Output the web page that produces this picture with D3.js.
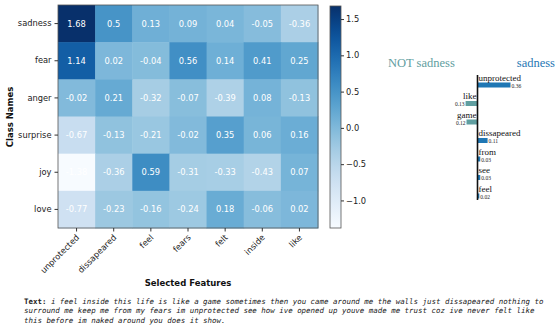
<!DOCTYPE html>
<html>
<head>
<meta charset="utf-8">
<script src="https://cdn.jsdelivr.net/npm/d3@7.9.0/dist/d3.min.js"></script>
<style>
  body { margin: 0; background: #fff; }
  svg { display: block; }
</style>
</head>
<body>
<svg id="chart" width="558" height="329"></svg>
<script>
// heatmap data
const classes = ["sadness", "fear", "anger", "surprise", "joy", "love"];
const features = ["unprotected", "dissapeared", "feel", "fears", "felt", "inside", "like"];
const values = [
  [1.68, 0.5, 0.13, 0.09, 0.04, -0.05, -0.36],
  [1.14, 0.02, -0.04, 0.56, 0.14, 0.41, 0.25],
  [-0.02, 0.21, -0.32, -0.07, -0.39, 0.08, -0.13],
  [-0.67, -0.13, -0.21, -0.02, 0.35, 0.06, 0.16],
  [-1.38, -0.36, 0.59, -0.31, -0.33, -0.43, 0.07],
  [-0.77, -0.23, -0.16, -0.24, 0.18, -0.06, 0.02]
];
const cbTicks = [-1.0, -0.5, 0.0, 0.5, 1.0, 1.5];

// lime explanation data
const limeWords = ["unprotected", "like", "game", "dissapeared", "from", "see", "feel"];
const limeWeights = [0.36, -0.13, -0.12, 0.11, 0.03, 0.03, 0.02];

const textLines = [
  "i feel inside this life is like a game sometimes then you came around me the walls just dissapeared nothing to",
  "surround me keep me from my fears im unprotected see how ive opened up youve made me trust coz ive never felt like",
  "this before im naked around you does it show."
];

const svg = d3.select("#chart");
const font = "DejaVu Sans, sans-serif";

const vmin = d3.min(values.flat()), vmax = d3.max(values.flat());
const x = d3.scaleBand().domain(features).range([58, 318]);
const y = d3.scaleBand().domain(classes).range([5, 228]);
const color = d3.scaleSequential(d3.interpolateBlues).domain([vmin, vmax]);

const cells = [];
values.forEach((row, i) => row.forEach((v, j) => cells.push({c: classes[i], f: features[j], v})));

svg.append("g").selectAll("rect").data(cells).join("rect")
  .attr("x", d => x(d.f)).attr("y", d => y(d.c))
  .attr("width", x.bandwidth() + 0.5).attr("height", y.bandwidth() + 0.5)
  .attr("fill", d => color(d.v));

svg.append("g").selectAll("text").data(cells).join("text")
  .attr("x", d => x(d.f) + x.bandwidth() / 2)
  .attr("y", d => y(d.c) + y.bandwidth() / 2 + 3)
  .attr("text-anchor", "middle")
  .attr("font-family", font).attr("font-size", 8.3)
  .attr("fill", "#fff")
  .text(d => d.v);

svg.append("rect").attr("x", 58).attr("y", 5).attr("width", 260).attr("height", 223)
  .attr("fill", "none").attr("stroke", "#555").attr("stroke-width", 0.8);

const yAxis = svg.append("g").attr("transform", "translate(58,0)")
  .call(d3.axisLeft(y).tickSize(3.5).tickPadding(3));
const xAxis = svg.append("g").attr("transform", "translate(0,228)")
  .call(d3.axisBottom(x).tickSize(3.5).tickPadding(2));
[yAxis, xAxis].forEach(a => {
  a.select(".domain").remove();
  a.selectAll("text").attr("font-family", font).attr("font-size", 8.3).attr("fill", "#222");
  a.selectAll("line").attr("stroke", "#333");
});
xAxis.selectAll("text")
  .attr("text-anchor", "end")
  .attr("dy", "0.3em")
  .attr("transform", function() {
    return "translate(0,4) rotate(-45)";
  })
  .attr("x", -2).attr("y", 4);

svg.append("text").attr("transform", "translate(13,117) rotate(-90)")
  .attr("text-anchor", "middle").attr("font-family", font).attr("font-size", 8.5)
  .attr("font-weight", "bold").attr("fill", "#111").text("Class Names");
svg.append("text").attr("x", 188).attr("y", 286)
  .attr("text-anchor", "middle").attr("font-family", font).attr("font-size", 8.5)
  .attr("font-weight", "bold").attr("fill", "#111").text("Selected Features");

// colorbar
const cb = d3.scaleLinear().domain([vmin, vmax]).range([228, 6]);
const defs = svg.append("defs");
const grad = defs.append("linearGradient").attr("id", "cbg")
  .attr("x1", 0).attr("y1", 1).attr("x2", 0).attr("y2", 0);
d3.range(0, 1.0001, 0.05).forEach(t => {
  grad.append("stop").attr("offset", t).attr("stop-color", d3.interpolateBlues(t));
});
svg.append("rect").attr("x", 330).attr("y", 6).attr("width", 11).attr("height", 222)
  .attr("fill", "url(#cbg)").attr("stroke", "#555").attr("stroke-width", 0.8);
const cbAxis = svg.append("g").attr("transform", "translate(341,0)")
  .call(d3.axisRight(cb).tickValues(cbTicks).tickSize(3).tickPadding(2)
    .tickFormat(d => d3.format(".1f")(d).replace("-", "\u2212")));
cbAxis.select(".domain").remove();
cbAxis.selectAll("text").attr("font-family", font).attr("font-size", 8.3).attr("fill", "#222");
cbAxis.selectAll("line").attr("stroke", "#333");

// lime panel
const serif = "Liberation Serif, Times New Roman, serif";
const teal = "#5f9ea0", blue = "#1f77b4";
const cx = 477.5;
const w = d3.scaleLinear().domain([0, 0.36]).range([0, 33]);
const ly = d3.scaleBand().domain(limeWords).range([75, 204.5]);

svg.append("text").attr("x", 388).attr("y", 67).attr("font-family", serif)
  .attr("font-size", 12.5).attr("fill", teal).text("NOT sadness");
svg.append("text").attr("x", 555).attr("y", 67).attr("text-anchor", "end").attr("font-family", serif)
  .attr("font-size", 12.5).attr("fill", blue).text("sadness");

const lime = limeWords.map((wd, i) => ({wd, v: limeWeights[i]}));
const lg = svg.append("g");
lg.selectAll("rect").data(lime).join("rect")
  .attr("x", d => d.v >= 0 ? cx : cx - w(-d.v))
  .attr("y", d => ly(d.wd) + 7.5)
  .attr("width", d => w(Math.abs(d.v))).attr("height", 5)
  .attr("fill", d => d.v >= 0 ? blue : teal);
lg.selectAll("text.word").data(lime).join("text").attr("class", "word")
  .attr("x", d => d.v >= 0 ? cx + 1 : cx - 1)
  .attr("y", d => ly(d.wd) + 5.5)
  .attr("text-anchor", d => d.v >= 0 ? "start" : "end")
  .attr("font-family", serif).attr("font-size", 9).attr("fill", "#111")
  .text(d => d.wd);
lg.selectAll("text.val").data(lime).join("text").attr("class", "val")
  .attr("x", d => d.v >= 0 ? cx + w(d.v) + 1 : cx - w(-d.v) - 1)
  .attr("y", d => ly(d.wd) + 12.5)
  .attr("text-anchor", d => d.v >= 0 ? "start" : "end")
  .attr("font-family", serif).attr("font-size", 5.5).attr("fill", "#222")
  .text(d => Math.abs(d.v).toFixed(2));
svg.append("line").attr("x1", cx).attr("x2", cx).attr("y1", 75).attr("y2", 200)
  .attr("stroke", "#111").attr("stroke-width", 1.6);

// text block
const mono = "DejaVu Sans Mono, monospace";
const tb = svg.append("g").attr("font-family", mono).attr("font-size", 7.45).attr("fill", "#222");
textLines.forEach((ln, i) => {
  const t = tb.append("text").attr("x", 24).attr("y", 304 + i * 9.3).attr("xml:space", "preserve");
  if (i === 0) t.append("tspan").attr("font-weight", "bold").text("Text: ");
  t.append("tspan").attr("font-style", "italic").text(ln);
});
</script>
</body>
</html>
